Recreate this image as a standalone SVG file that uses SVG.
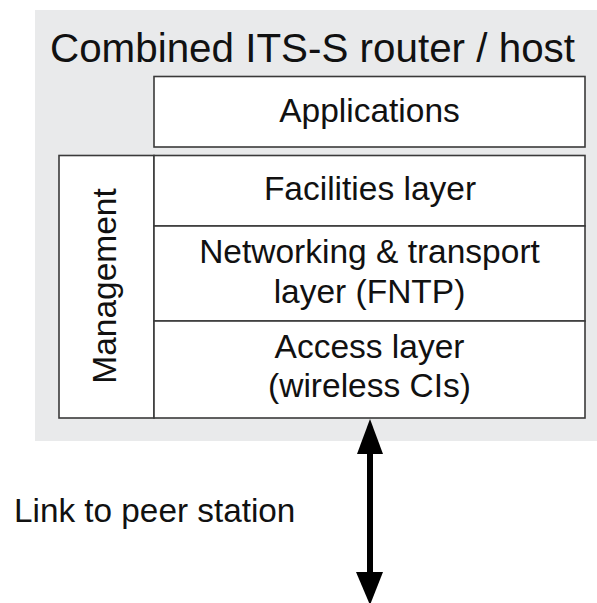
<svg xmlns="http://www.w3.org/2000/svg" width="597" height="603" viewBox="0 0 597 603">
<style>
.box{fill:#ffffff;stroke:#3a3a3a;stroke-width:1.6}
.t{font-family:"Liberation Sans",Arial,sans-serif;font-size:33.5px;fill:#111;text-anchor:middle}
.title{font-family:"Liberation Sans",Arial,sans-serif;font-size:40px;fill:#111}
.lbl{font-family:"Liberation Sans",Arial,sans-serif;font-size:33.3px;fill:#111}
</style>
<rect width="597" height="603" fill="#ffffff"/>
<g id="host">
<rect x="35" y="10" width="562" height="431" fill="#e9eaeb"/>
<text class="title" x="50" y="62" textLength="525" lengthAdjust="spacingAndGlyphs">Combined ITS-S router / host</text>
</g>
<g id="applications">
<rect class="box" x="154" y="76.5" width="431" height="70.5"/>
<text class="t" x="369.5" y="122">Applications</text>
</g>
<g id="management">
<rect class="box" x="59" y="155.5" width="95" height="262.5"/>
<text class="t" transform="translate(116,286) rotate(-90)" x="0" y="0">Management</text>
</g>
<g id="facilities">
<rect class="box" x="154" y="155.5" width="431" height="70.5"/>
<text class="t" x="370" y="200">Facilities layer</text>
</g>
<g id="networking">
<rect class="box" x="154" y="226" width="431" height="95"/>
<text class="t" x="369.5" y="263">Networking &amp; transport</text>
<text class="t" x="369.5" y="303">layer (FNTP)</text>
</g>
<g id="access">
<rect class="box" x="154" y="321" width="431" height="97"/>
<text class="t" x="369.5" y="358">Access layer</text>
<text class="t" x="369.5" y="397">(wireless CIs)</text>
</g>
<g id="connectors">
<line x1="370" y1="450" x2="370" y2="576" stroke="#000" stroke-width="6"/>
<polygon points="370,419 383,454 357,454" fill="#000"/>
<polygon points="370,605 383,572 356,572" fill="#000"/>
<text class="lbl" x="14" y="522">Link to peer station</text>
</g>
</svg>
